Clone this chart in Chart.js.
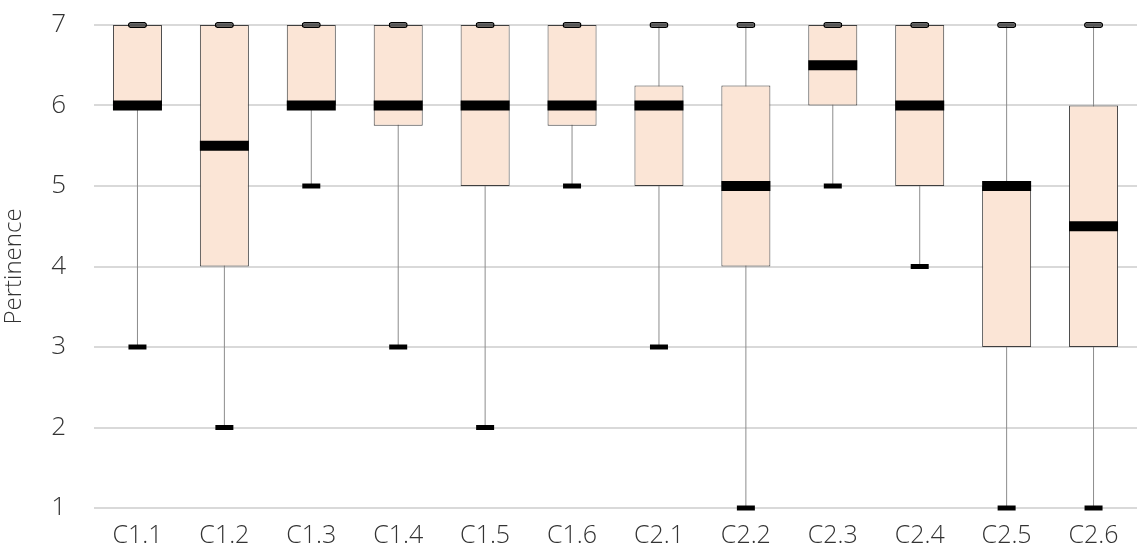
<!DOCTYPE html>
<html>
<head>
<meta charset="utf-8">
<script src="https://cdn.jsdelivr.net/npm/chart.js@4"></script>
<style>
  html, body { margin: 0; padding: 0; background: #fff; }
  canvas { display: block; }
</style>
</head>
<body>
<canvas id="box" width="1137" height="560"></canvas>
<script>
// Box plot of pertinence scores per criterion
const categories = ['C1.1', 'C1.2', 'C1.3', 'C1.4', 'C1.5', 'C1.6', 'C2.1', 'C2.2', 'C2.3', 'C2.4', 'C2.5', 'C2.6'];
const mins    = [3, 2, 5, 3, 2, 5, 3, 1, 5, 4, 1, 1];
const q1s     = [6, 4, 6, 5.75, 5, 5.75, 5, 4, 6, 5, 3, 3];
const medians = [6, 5.5, 6, 6, 6, 6, 6, 5, 6.5, 6, 5, 4.5];
const q3s     = [7, 7, 7, 7, 7, 7, 6.25, 6.25, 7, 7, 5, 6];
const maxs    = [7, 7, 7, 7, 7, 7, 7, 7, 7, 7, 7, 7];
const yTicks  = [1, 2, 3, 4, 5, 6, 7];

const FONT = "'Open Sans', 'Lato', sans-serif";
const TEXT = '#333';
const MED_HALF = 0.062;   // half thickness of median bar (value units)
const CAP_HALF = 0.031;

const band = (v, h) => v.map(x => [x - h, x + h]);

const common = { grouped: false, borderSkipped: false, inflateAmount: 0, clip: false };

new Chart(document.getElementById('box'), {
    type: 'bar',
    data: {
        labels: categories,
        datasets: [
            // whisker line
            { ...common, order: 5, data: mins.map((m, i) => [m, maxs[i]]),
              backgroundColor: '#8c8c8c', barThickness: 1 },
            // box
            { ...common, order: 4, data: q1s.map((q, i) => [q, q3s[i]]),
              backgroundColor: '#fbe5d6', borderColor: '#3f3f3f', borderWidth: 1, barThickness: 49 },
            // median
            { ...common, order: 3, data: band(medians, MED_HALF),
              backgroundColor: '#000', barThickness: 49 },
            // lower cap
            { ...common, order: 2, data: band(mins, CAP_HALF),
              backgroundColor: '#000', barThickness: 18 },
            // upper cap
            { ...common, order: 1, data: band(maxs, 0.036),
              backgroundColor: '#555', borderColor: '#000', borderWidth: 1.5, borderRadius: 2.5, barThickness: 19 }
        ]
    },
    options: {
        responsive: false,
        animation: false,
        layout: { autoPadding: false, padding: { top: 25, right: 0, left: 0, bottom: 0 } },
        plugins: { legend: { display: false }, tooltip: { enabled: false } },
        scales: {
            x: {
                grid: { display: false, drawTicks: false },
                border: { display: false },
                ticks: { color: TEXT, font: { family: FONT, size: 25, weight: 300 }, padding: 13, maxRotation: 0 },
                afterFit: s => { s.height = 52; }
            },
            y: {
                min: 1, max: 7,
                afterBuildTicks: s => { s.ticks = yTicks.map(v => ({ value: v })); },
                grid: { color: '#d9d9d9', lineWidth: 2, drawTicks: false },
                border: { display: false },
                ticks: { color: TEXT, font: { family: FONT, size: 26, weight: 300 }, padding: 28 },
                title: { display: true, text: 'Pertinence', color: TEXT, font: { family: FONT, size: 24, weight: 300 }, padding: { top: 0, bottom: 0 } },
                afterFit: s => { s.width = 94; s.paddingTop = 0; s.paddingBottom = 0; }
            }
        }
    }
});
</script>
</body>
</html>
